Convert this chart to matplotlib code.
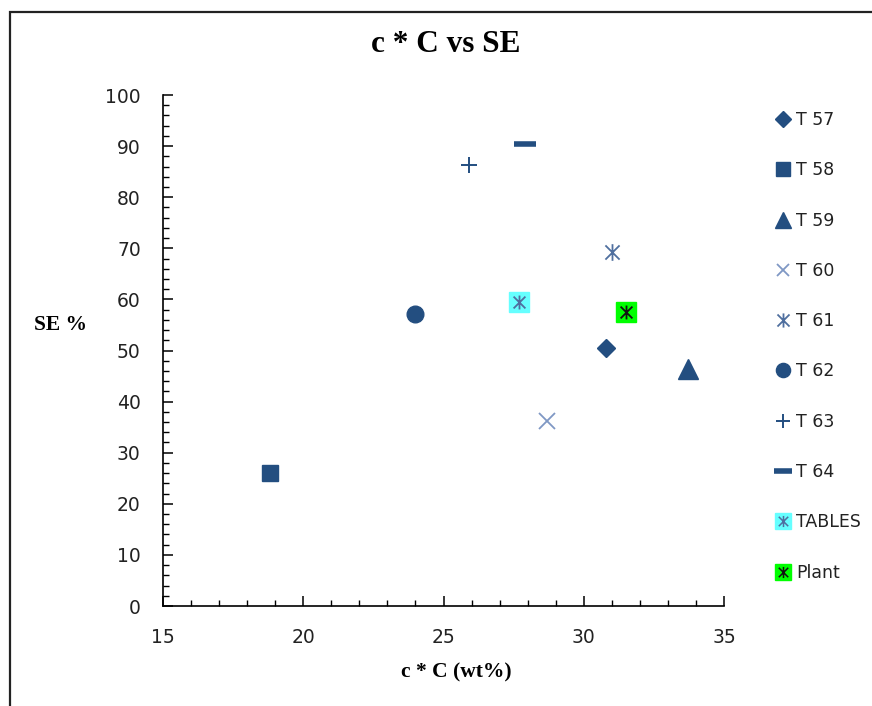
import matplotlib
matplotlib.use("Agg")
import matplotlib.pyplot as plt
from matplotlib.path import Path
from matplotlib.lines import Line2D
from matplotlib.patches import Rectangle
from matplotlib.ticker import MultipleLocator
from matplotlib.legend_handler import HandlerTuple

# Data
series_names = ["T 57", "T 58", "T 59", "T 60", "T 61", "T 62", "T 63", "T 64", "TABLES", "Plant"]
cC_values = [30.8, 18.8, 33.7, 28.7, 31.0, 24.0, 25.9, 27.9, 27.7, 31.5]
se_values = [50.4, 26.1, 46.3, 36.2, 69.2, 57.1, 86.3, 90.4, 59.4, 57.6]

navy = "#234E80"
light = "#7F98C4"
mid = "#4F6F9F"

# Asterisk marker: vertical stroke plus two diagonals
ast_verts = [(0, -1), (0, 1), (-0.85, -0.85), (0.85, 0.85), (-0.85, 0.85), (0.85, -0.85)]
ast_codes = [Path.MOVETO, Path.LINETO] * 3
asterisk = Path(ast_verts, ast_codes)

styles = [
    dict(marker="D", ms=9, color=navy),
    dict(marker="s", ms=12, color=navy),
    dict(marker="^", ms=14, color=navy),
    dict(marker="x", ms=11, color=light, mew=1.3),
    dict(marker=asterisk, ms=12, color=mid, mew=1.3),
    dict(marker="o", ms=12, color=navy),
    dict(marker="+", ms=12, color=navy, mew=1.4),
    dict(marker="_", ms=16, color=navy, mew=4),
    None,
    None,
]
box_colors = {8: ("#66FFFF", mid), 9: ("#00FF00", "#111111")}

fig = plt.figure(figsize=(8.72, 7.06), dpi=100)
ax = fig.add_axes([163 / 872, 1 - 606 / 706, (724 - 163) / 872, (606 - 95) / 706])

handles = []
for i, name in enumerate(series_names):
    x, y = cC_values[i], se_values[i]
    if styles[i] is not None:
        st = styles[i]
        ax.plot([x], [y], linestyle="none", marker=st["marker"], markersize=st["ms"],
                color=st["color"], markeredgewidth=st.get("mew", 1.0))
        handles.append(Line2D([], [], linestyle="none", marker=st["marker"],
                              markersize=st["ms"] * 0.85, color=st["color"],
                              markeredgewidth=st.get("mew", 1.0)))
    else:
        face, star = box_colors[i]
        ax.plot([x], [y], linestyle="none", marker="s", markersize=14,
                markerfacecolor=face, markeredgecolor=face)
        ax.plot([x], [y], linestyle="none", marker=asterisk, markersize=10,
                color=star, markeredgewidth=1.3)
        handles.append((Line2D([], [], linestyle="none", marker="s", markersize=11,
                               markerfacecolor=face, markeredgecolor=face),
                        Line2D([], [], linestyle="none", marker=asterisk, markersize=8,
                               color=star, markeredgewidth=1.1)))

ax.set_xlim(15, 35)
ax.set_ylim(0, 100)
ax.xaxis.set_major_locator(MultipleLocator(5))
ax.xaxis.set_minor_locator(MultipleLocator(1))
ax.yaxis.set_major_locator(MultipleLocator(10))
ax.yaxis.set_minor_locator(MultipleLocator(2))
for s in ["top", "right"]:
    ax.spines[s].set_visible(False)
for s in ["left", "bottom"]:
    ax.spines[s].set_linewidth(1.2)
    ax.spines[s].set_color("#000000")
ax.tick_params(axis="both", which="major", direction="in", length=7, width=1.1,
               labelsize=13.5, colors="#000000", labelcolor="#222222")
ax.tick_params(axis="both", which="minor", direction="in", length=4, width=1.0)
ax.tick_params(axis="x", which="major", pad=16)
ax.tick_params(axis="y", which="major", pad=16)

serif = "Liberation Serif"
fig.text(446 / 872, 1 - 45 / 706, "c * C vs SE", ha="center", va="center",
         fontsize=22.5, fontweight="bold", family=serif)
fig.text(456 / 872, 1 - 672 / 706, "c * C (wt%)", ha="center", va="center",
         fontsize=15.5, fontweight="bold", family=serif)
fig.text(60 / 872, 1 - 325 / 706, "SE %", ha="center", va="center",
         fontsize=15.5, fontweight="bold", family=serif)

leg = fig.legend(handles, series_names, loc="upper left",
                 bbox_to_anchor=(776 / 872, 1 - 111 / 706), frameon=False,
                 fontsize=12.5, handlelength=0.8, handletextpad=0.35,
                 labelspacing=1.86, borderaxespad=0, borderpad=0,
                 handler_map={tuple: HandlerTuple(ndivide=1)})
for t in leg.get_texts():
    t.set_color("#222222")

# Outer chart frame
fig.patches.append(Rectangle((10 / 872, -0.05), 1.05, 1 - 12 / 706 + 0.05,
                             transform=fig.transFigure, fill=False,
                             edgecolor="#222222", linewidth=1.6))

fig.savefig("out.png", dpi=100)
